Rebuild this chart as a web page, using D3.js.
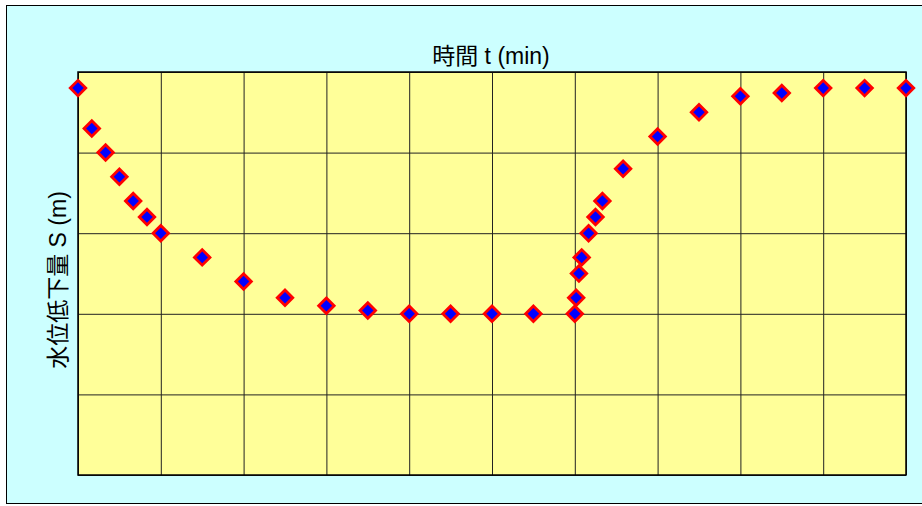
<!DOCTYPE html>
<html>
<head>
<meta charset="utf-8">
<script src="https://cdn.jsdelivr.net/npm/d3@7"></script>
<style>
  html, body { margin: 0; padding: 0; background: #fff; }
  svg { display: block; }
  text { font-family: "Liberation Sans", Arial, "Noto Sans CJK JP", sans-serif; fill: #000; }
</style>
</head>
<body>
<script>
const WIDTH = 922;
const HEIGHT = 506;

// plot area
const plotLeft = 78, plotTop = 72, plotRight = 906, plotBottom = 475;

// time t (min) and drawdown S (m)
const times = [0, 10, 20, 30, 40, 50, 60, 90, 120, 150, 180, 210, 240, 270, 300, 330, 360,
               361, 363, 365, 370, 375, 380, 395, 420, 450, 480, 510, 540, 570, 600];
const drawdown = [0.10, 0.35, 0.50, 0.65, 0.80, 0.90, 1.00, 1.15, 1.30, 1.40, 1.45, 1.48, 1.50, 1.50, 1.50, 1.50, 1.50,
                  1.40, 1.25, 1.15, 1.00, 0.90, 0.80, 0.60, 0.40, 0.25, 0.15, 0.13, 0.10, 0.10, 0.10];

const xTicks = [0, 60, 120, 180, 240, 300, 360, 420, 480, 540, 600];
const yTicks = [0, 0.5, 1.0, 1.5, 2.0, 2.5];

const xTitle = "時間 t (min)";
const yTitle = "水位低下量 S (m)";

const data = times.map((t, i) => ({ t: t, s: drawdown[i] }));

const xScale = d3.scaleLinear().domain([0, 600]).range([plotLeft, plotRight]);
const yScale = d3.scaleLinear().domain([0, 2.5]).range([plotTop, plotBottom]);

const svg = d3.select("body").append("svg")
    .attr("width", WIDTH)
    .attr("height", HEIGHT);

// chart area background
svg.append("rect")
    .attr("x", 6.5).attr("y", 5.5)
    .attr("width", WIDTH + 10).attr("height", 498)
    .attr("fill", "#ccffff")
    .attr("stroke", "#000")
    .attr("stroke-width", 1);

// plot background
svg.append("rect")
    .attr("x", plotLeft).attr("y", plotTop)
    .attr("width", plotRight - plotLeft).attr("height", plotBottom - plotTop)
    .attr("fill", "#ffff99");

// grid via axes
svg.append("g")
    .attr("transform", "translate(0," + plotTop + ")")
    .call(d3.axisTop(xScale).tickValues(xTicks).tickSize(-(plotBottom - plotTop)).tickFormat(""))
    .call(g => g.select(".domain").remove())
    .call(g => g.selectAll("line").attr("stroke", "#222").attr("stroke-width", 1));

svg.append("g")
    .attr("transform", "translate(" + plotLeft + ",0)")
    .call(d3.axisLeft(yScale).tickValues(yTicks).tickSize(-(plotRight - plotLeft)).tickFormat(""))
    .call(g => g.select(".domain").remove())
    .call(g => g.selectAll("line").attr("stroke", "#222").attr("stroke-width", 1));

// plot border
svg.append("rect")
    .attr("x", plotLeft).attr("y", plotTop)
    .attr("width", plotRight - plotLeft).attr("height", plotBottom - plotTop)
    .attr("fill", "none")
    .attr("stroke", "#000")
    .attr("stroke-width", 1.5);

// markers
const diamond = d3.symbol().type(d3.symbolSquare).size(120);
svg.append("g").selectAll("path")
    .data(data)
    .join("path")
    .attr("d", diamond)
    .attr("transform", d => "translate(" + xScale(d.t) + "," + yScale(d.s) + ") rotate(45)")
    .attr("fill", "#0000ff")
    .attr("stroke", "#ff0000")
    .attr("stroke-width", 2.8);

// titles
svg.append("text")
    .attr("x", 491)
    .attr("y", 64)
    .attr("text-anchor", "middle")
    .attr("font-size", 23)
    .text(xTitle);

svg.append("text")
    .attr("transform", "translate(66," + 280 + ") rotate(-90)")
    .attr("text-anchor", "middle")
    .attr("font-size", 23)
    .text(yTitle);
</script>
</body>
</html>
